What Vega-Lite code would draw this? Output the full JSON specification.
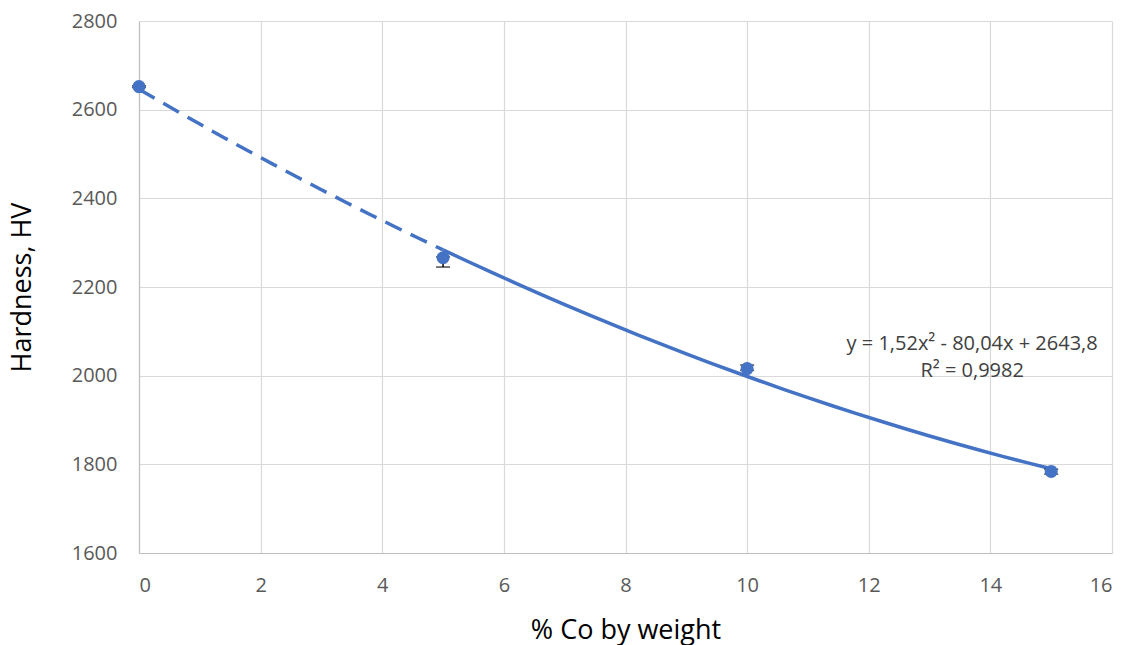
{
  "$schema": "https://vega.github.io/schema/vega-lite/v6.json",
  "width": 973,
  "height": 532,
  "autosize": {"type": "none"},
  "padding": {"left": 139, "top": 21, "right": 20, "bottom": 92},
  "background": "white",
  "config": {
    "view": {"stroke": null},
    "font": "Open Sans",
    "axis": {
      "labelFont": "Open Sans",
      "titleFont": "Open Sans",
      "labelFontSize": 20,
      "titleFontSize": 27,
      "titleFontWeight": "normal",
      "labelColor": "#595959",
      "titleColor": "#000000",
      "gridColor": "#d9d9d9",
      "gridWidth": 1.2,
      "domainColor": "#bfbfbf",
      "domainWidth": 1.2,
      "tickSize": 0
    }
  },
  "datasets": {
    "hv": [
      {"co": 0, "hv": 2652, "lo": 2650, "hi": 2654},
      {"co": 5, "hv": 2266, "lo": 2245, "hi": 2268},
      {"co": 10, "hv": 2016, "lo": 2012, "hi": 2024},
      {"co": 15, "hv": 1784, "lo": 1778, "hi": 1789}
    ],
    "notes": [
      {"label": "y = 1,52x² - 80,04x + 2643,8", "line": 1},
      {"label": "R² = 0,9982", "line": 2}
    ]
  },
  "layer": [
    {
      "data": {"name": "hv"},
      "transform": [{"regression": "hv", "on": "co", "method": "poly", "order": 2, "extent": [0, 5]}],
      "mark": {"type": "line", "color": "#4472c4", "strokeWidth": 3.5, "strokeDash": [18, 10]},
      "encoding": {
        "x": {
          "field": "co", "type": "quantitative",
          "scale": {"domain": [0, 16], "nice": false, "zero": false},
          "axis": {"values": [0, 2, 4, 6, 8, 10, 12, 14, 16], "format": "d", "title": "% Co by weight", "labelPadding": 22, "titleY": 77, "titleBaseline": "middle", "grid": true}
        },
        "y": {
          "field": "hv", "type": "quantitative",
          "scale": {"domain": [1600, 2800], "nice": false, "zero": false},
          "axis": {"values": [1600, 1800, 2000, 2200, 2400, 2600, 2800], "format": "d", "title": "Hardness, HV", "labelPadding": 22, "titleX": -117, "titleY": 266, "titleAlign": "center", "titleBaseline": "middle", "titleAngle": -90, "grid": true}
        }
      }
    },
    {
      "data": {"name": "hv"},
      "transform": [{"regression": "hv", "on": "co", "method": "poly", "order": 2, "extent": [5, 15]}],
      "mark": {"type": "line", "color": "#4472c4", "strokeWidth": 3.5},
      "encoding": {
        "x": {"field": "co", "type": "quantitative"},
        "y": {"field": "hv", "type": "quantitative"}
      }
    },
    {
      "data": {"name": "hv"},
      "mark": {"type": "rule", "color": "#000000", "strokeWidth": 1.5},
      "encoding": {
        "x": {"field": "co", "type": "quantitative"},
        "y": {"field": "lo", "type": "quantitative"},
        "y2": {"field": "hi"}
      }
    },
    {
      "data": {"name": "hv"},
      "mark": {"type": "tick", "color": "#000000", "thickness": 1.5, "size": 14, "orient": "horizontal"},
      "encoding": {
        "x": {"field": "co", "type": "quantitative"},
        "y": {"field": "lo", "type": "quantitative"}
      }
    },
    {
      "data": {"name": "hv"},
      "mark": {"type": "tick", "color": "#000000", "thickness": 1.5, "size": 14, "orient": "horizontal"},
      "encoding": {
        "x": {"field": "co", "type": "quantitative"},
        "y": {"field": "hi", "type": "quantitative"}
      }
    },
    {
      "data": {"name": "hv"},
      "mark": {"type": "circle", "color": "#4472c4", "opacity": 1, "size": 170},
      "encoding": {
        "x": {"field": "co", "type": "quantitative"},
        "y": {"field": "hv", "type": "quantitative"}
      }
    },
    {
      "data": {"name": "notes"},
      "transform": [{"filter": "datum.line === 1"}],
      "mark": {"type": "text", "font": "Open Sans", "fontSize": 20, "color": "#404040", "align": "center", "baseline": "middle"},
      "encoding": {"x": {"datum": 13.7}, "y": {"datum": 2071}, "text": {"field": "label", "type": "nominal"}}
    },
    {
      "data": {"name": "notes"},
      "transform": [{"filter": "datum.line === 2"}],
      "mark": {"type": "text", "font": "Open Sans", "fontSize": 20, "color": "#404040", "align": "center", "baseline": "middle"},
      "encoding": {"x": {"datum": 13.7}, "y": {"datum": 2010}, "text": {"field": "label", "type": "nominal"}}
    }
  ]
}
